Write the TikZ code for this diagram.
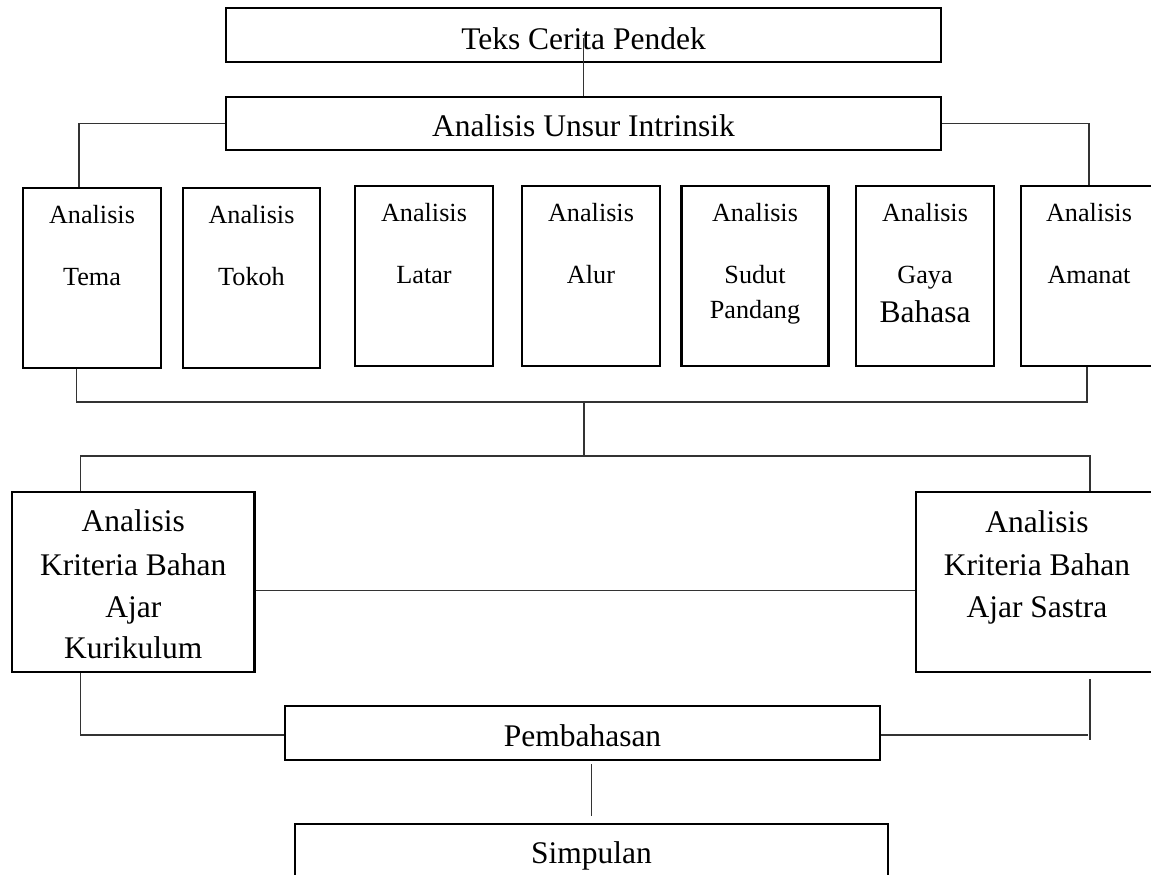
\documentclass[tikz,border=0pt]{standalone}
\usepackage{fontspec}
\setmainfont{Liberation Serif}
\begin{document}
\begin{tikzpicture}[x=1pt,y=-1pt,
  box/.style={draw=black, line width=2.4pt, fill=none, inner sep=0pt},
  big/.style={font=\fontsize{31.5}{38}\selectfont, inner sep=0pt, anchor=base},
  small/.style={font=\fontsize{26.2}{31}\selectfont, inner sep=0pt, anchor=base},
  link/.style={draw=black!80, line width=1.2pt}]
\useasboundingbox (0,0) rectangle (1151,875);
\clip (0,0) rectangle (1151,875);

% top boxes
\node[box, minimum width=715pt, minimum height=54pt] (teks) at (583.5,35) {};
\node[big] (teksT) at (583.5,50) {Teks Cerita Pendek};
\node[box, minimum width=715pt, minimum height=53pt] (unsur) at (583.5,123.5) {};
\node[big] (unsurT) at (583.5,136.7) {Analisis Unsur Intrinsik};

% column boxes
\node[box, minimum width=138pt, minimum height=180pt] (tema) at (92,278) {};
\node[small] (temaA) at (92,223.5) {Analisis};
\node[small] (temaB) at (92,285) {Tema};

\node[box, minimum width=137pt, minimum height=180pt] (tokoh) at (251.5,278) {};
\node[small] (tokohA) at (251.5,223.5) {Analisis};
\node[small] (tokohB) at (251.5,285) {Tokoh};

\node[box, minimum width=138pt, minimum height=180pt] (latar) at (424,276) {};
\node[small] (latarA) at (424,221.5) {Analisis};
\node[small] (latarB) at (424,283) {Latar};

\node[box, minimum width=138pt, minimum height=180pt] (alur) at (591,276) {};
\node[small] (alurA) at (591,221.5) {Analisis};
\node[small] (alurB) at (591,283) {Alur};

\node[box, minimum width=147pt, minimum height=180pt] (sudut) at (755,276) {};
\node[small] (sudutA) at (755,221.5) {Analisis};
\node[small] (sudutB) at (755,283) {Sudut};
\node[small] (sudutC) at (755,318) {Pandang};

\node[box, minimum width=138pt, minimum height=180pt] (gaya) at (925,276) {};
\node[small] (gayaA) at (925,221.5) {Analisis};
\node[small] (gayaB) at (925,283) {Gaya};
\node[big] (gayaC) at (925,322) {Bahasa};

\node[box, minimum width=136pt, minimum height=180pt] (amanat) at (1089,276) {};
\node[small] (amanatA) at (1089,221.5) {Analisis};
\node[small] (amanatB) at (1089,283) {Amanat};

% criteria boxes
\node[box, minimum width=242.5pt, minimum height=180pt] (kur) at (133.25,582) {};
\node[big] (kurA) at (133.25,531.7) {Analisis};
\node[big] (kurB) at (133.25,575) {Kriteria Bahan};
\node[big] (kurC) at (133.25,617) {Ajar};
\node[big] (kurD) at (133.25,658) {Kurikulum};

\node[box, minimum width=242pt, minimum height=180pt] (sastra) at (1037,582) {};
\node[big] (sastraA) at (1037,532.5) {Analisis};
\node[big] (sastraB) at (1037,575) {Kriteria Bahan};
\node[big] (sastraC) at (1037,617.5) {Ajar Sastra};

% bottom boxes
\node[box, minimum width=595pt, minimum height=54pt] (pemb) at (582.5,733) {};
\node[big] (pembT) at (582.5,746.7) {Pembahasan};
\node[box, minimum width=593pt, minimum height=62pt] (simp) at (591.5,855) {};
\node[big] (simpT) at (591.5,863) {Simpulan};

% connectors
\coordinate (bus1) at (584,402);
\coordinate (bus2) at (584,456);
\draw[link] ([yshift=-3pt]teks.center) -- (unsur.north);
\draw[link] (unsur.west) -| ([xshift=-13pt]tema.north);
\draw[link] (unsur.east) -| (amanat.north);
\draw[link] ([xshift=-15.5pt]tema.south) |- (bus1) -| ([xshift=-2pt]amanat.south);
\draw[link] (bus1) -- (bus2);
\draw[link] ([xshift=-53pt]kur.north) |- (bus2) -| ([xshift=53pt]sastra.north);
\draw[link] ([yshift=-8.7pt]kur.east) -- ([yshift=-8.7pt]sastra.west);
\draw[link] ([xshift=-53pt]kur.south) |- ([yshift=-2pt]pemb.west);
\draw[link] ([yshift=-2pt]pemb.east) -- ++(207,0);
\draw[link] ([xshift=53pt,yshift=-6pt]sastra.south) -- ++(0,61);
\draw[link] ([yshift=-3pt]pemb.south -| simp.north) -- ([yshift=7pt]simp.north);
\end{tikzpicture}
\end{document}
